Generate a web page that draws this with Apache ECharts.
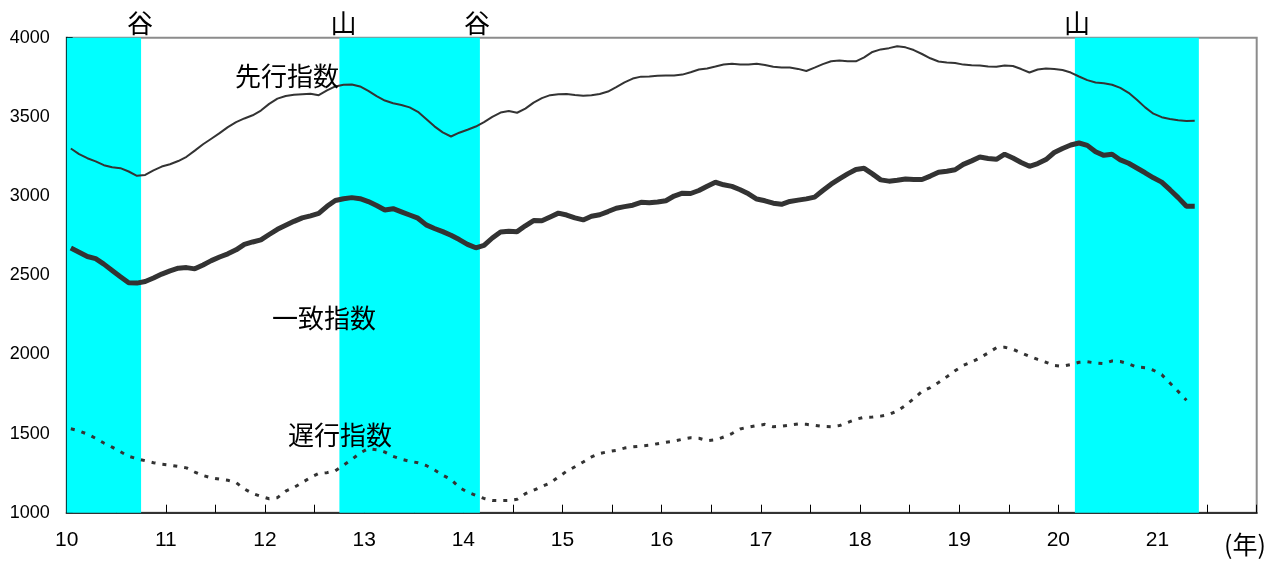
<!DOCTYPE html>
<html><head><meta charset="utf-8">
<script src="https://cdn.jsdelivr.net/npm/echarts@6/dist/echarts.min.js"></script>
<style>html,body{margin:0;padding:0;background:#fff}#c{width:1277px;height:561px}</style>
</head><body><div id="c"></div>
<script>
// monthly data starting January 2010
const startYear = 2010;
const leading = [
3300,3265,3239,3219,3195,3182,3176,3155,3128,3133,
3162,3186,3201,3221,3248,3287,3327,3362,3397,3435,
3467,3490,3510,3540,3582,3615,3632,3639,3643,3646,
3637,3667,3692,3703,3705,3692,3664,3631,3603,3586,
3575,3560,3532,3487,3440,3402,3376,3400,3419,3439,
3467,3500,3527,3537,3526,3552,3590,3618,3637,3643,
3644,3638,3633,3637,3644,3660,3688,3718,3742,3754,
3755,3759,3761,3762,3767,3782,3799,3806,3818,3831,
3836,3831,3830,3835,3828,3816,3812,3812,3803,3790,
3811,3833,3851,3856,3851,3851,3876,3910,3926,3934,
3946,3939,3922,3897,3870,3850,3844,3840,3830,3826,
3825,3818,3817,3824,3821,3802,3780,3799,3806,3803,
3796,3780,3755,3732,3717,3712,3703,3683,3652,3608,
3560,3520,3498,3487,3478,3474,3476];
const coincident = [
2672,2645,2618,2605,2570,2530,2490,2452,2450,2460,
2482,2507,2527,2544,2548,2540,2565,2592,2615,2635,
2660,2695,2710,2723,2757,2790,2815,2840,2862,2875,
2890,2935,2972,2983,2990,2983,2965,2940,2912,2920,
2900,2880,2860,2818,2795,2775,2752,2725,2695,2673,
2688,2735,2773,2778,2775,2812,2845,2844,2868,2892,
2880,2862,2849,2872,2882,2902,2923,2933,2942,2960,
2957,2962,2970,3000,3018,3016,3035,3062,3087,3071,
3061,3040,3014,2981,2970,2955,2948,2966,2974,2982,
2993,3035,3075,3108,3140,3168,3175,3140,3102,3094,
3100,3108,3105,3104,3126,3150,3157,3166,3200,3222,
3246,3237,3232,3264,3240,3212,3188,3205,3230,3275,
3300,3322,3335,3320,3280,3257,3264,3228,3207,3177,
3147,3115,3088,3040,2990,2935,2935];
const lagging = [
1530,1517,1496,1470,1440,1414,1385,1356,1341,1328,
1316,1306,1300,1292,1283,1257,1235,1220,1212,1205,
1190,1150,1121,1103,1088,1095,1136,1160,1190,1222,
1248,1253,1265,1300,1336,1377,1405,1398,1383,1356,
1338,1325,1315,1298,1270,1237,1210,1160,1130,1110,
1090,1077,1076,1077,1085,1120,1142,1165,1188,1225,
1262,1290,1320,1352,1374,1385,1394,1408,1416,1421,
1426,1436,1445,1452,1464,1473,1470,1455,1460,1478,
1500,1529,1541,1550,1558,1543,1546,1553,1560,1558,
1552,1545,1543,1550,1570,1590,1603,1604,1610,1620,
1643,1678,1720,1766,1790,1822,1858,1897,1930,1952,
1978,2009,2042,2045,2032,2010,1988,1968,1950,1930,
1925,1935,1950,1953,1946,1942,1958,1955,1940,1920,
1916,1900,1872,1819,1766,1710];
// contraction phases (year fractions, last two digits of year)
const contractionStart = [10, 12.75, 20.1667];
const contractionEnd = [10.75, 14.1667, 21.4167];
const turnLabels = ['谷', '山', '谷', '山'];
const turnPoints = [10.75, 12.75, 14.1667, 20.1667];
const seriesNames = ['先行指数', '一致指数', '遅行指数'];

const toXY = arr => arr.map((v, i) => [startYear - 2000 + (i + 0.5) / 12, v]);

const chart = echarts.init(document.getElementById('c'), null, {renderer: 'canvas'});
const cjk = "'Noto Sans CJK JP', 'Noto Sans', sans-serif";
const num = "'Liberation Sans', Arial, sans-serif";

const option = {
  animation: false,
  backgroundColor: '#fff',
  grid: {left: 66.7, right: 20.3, top: 37.7, bottom: 48.3, show: true, borderColor: '#8c8c8c', borderWidth: 2, backgroundColor: 'transparent'},
  xAxis: {
    type: 'value', min: 10, max: 22, interval: 0.5,
    axisLine: {lineStyle: {color: '#333', width: 2}},
    axisTick: {inside: true, length: 8, lineStyle: {color: '#000', width: 1}},
    splitLine: {show: false},
    axisLabel: {
      color: '#000', fontSize: 21, fontFamily: num, margin: 17,
      formatter: v => (Math.abs(v - Math.round(v)) < 1e-6 && v < 21.5) ? String(Math.round(v)) : ''
    }
  },
  yAxis: {
    type: 'value', min: 1000, max: 4000, interval: 500,
    axisLine: {show: true, lineStyle: {color: '#000', width: 2}},
    axisTick: {show: true, inside: true, length: 6, lineStyle: {color: '#000', width: 1}},
    splitLine: {show: false},
    axisLabel: {color: '#000', fontSize: 18, fontFamily: num, margin: 17, formatter: v => String(v)}
  },
  series: [
    {
      type: 'line', data: [], z: 1, silent: true,
      markArea: {
        silent: true,
        itemStyle: {color: '#00ffff', opacity: 1},
        label: {show: false},
        data: contractionStart.map((s, k) => [{xAxis: s}, {xAxis: contractionEnd[k]}])
      }
    },
    {name: seriesNames[0], type: 'line', z: 3, data: toXY(leading), showSymbol: false, lineStyle: {color: '#333', width: 2}},
    {name: seriesNames[1], type: 'line', z: 3, data: toXY(coincident), showSymbol: false, lineStyle: {color: '#333', width: 5}},
    {name: seriesNames[2], type: 'line', z: 3, data: toXY(lagging), showSymbol: false, lineStyle: {color: '#333', width: 3, type: [4, 7]}}
  ]
};
chart.setOption(option);

const graphics = [];
const labelShift = [-1, 4, -3, 2];
turnLabels.forEach((t, k) => {
  const px = chart.convertToPixel({gridIndex: 0}, [turnPoints[k], 4000]);
  graphics.push({type: 'text', x: px[0] + labelShift[k], y: 23, style: {text: t, font: "26px " + cjk, fill: '#000', textAlign: 'center', textVerticalAlign: 'middle'}});
});
const nameLabelPos = [[287, 76], [324, 318], [340, 435]];
seriesNames.forEach((n, k) => {
  graphics.push({type: 'text', x: nameLabelPos[k][0], y: nameLabelPos[k][1], z: 10, style: {text: n, font: "26px " + cjk, fill: '#000', textAlign: 'center', textVerticalAlign: 'middle'}});
});
graphics.push({type: 'text', x: 1245, y: 544, style: {text: '(年)', font: "25px " + cjk, fill: '#000', textAlign: 'center', textVerticalAlign: 'middle'}});
chart.setOption({graphic: graphics});
</script>
</body></html>
